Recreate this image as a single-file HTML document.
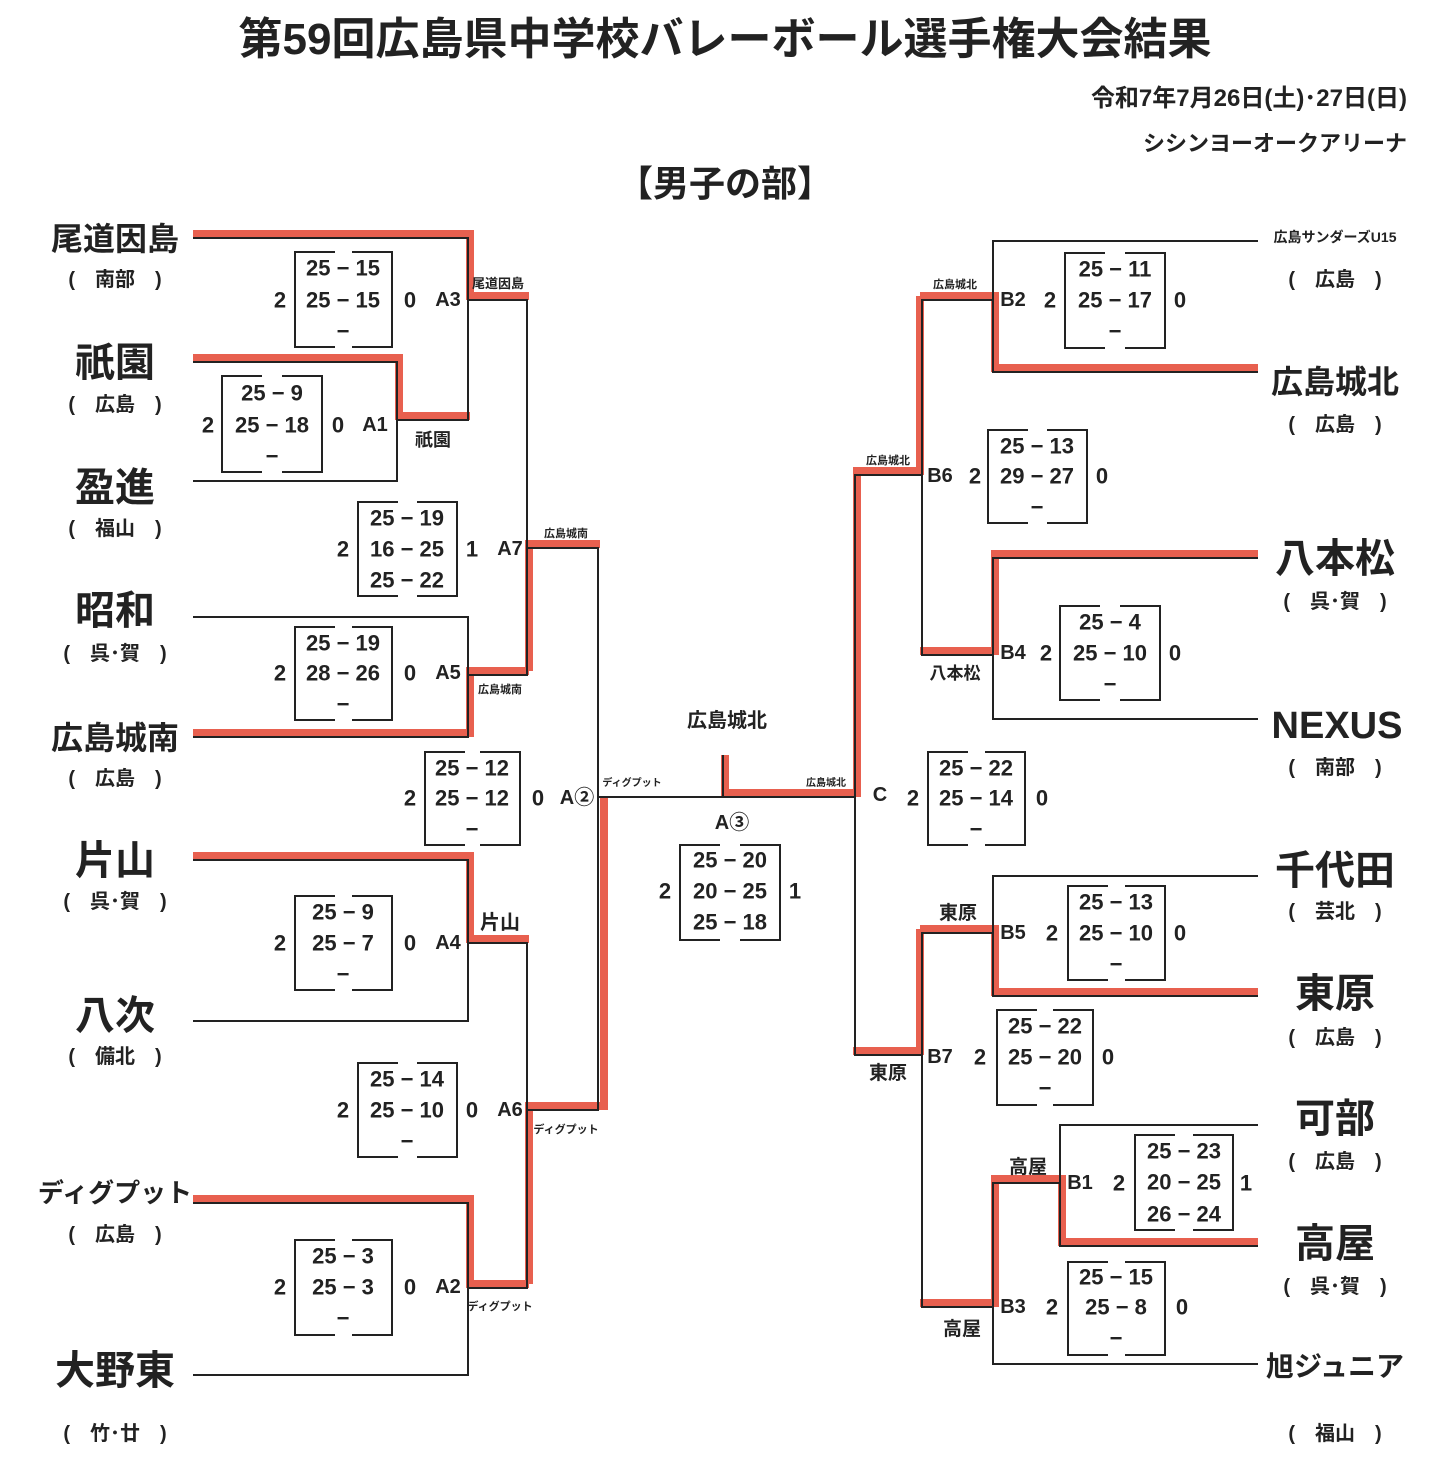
<!DOCTYPE html>
<html><head><meta charset="utf-8"><style>
body{margin:0;background:#fff}
svg{display:block}
text{font-family:"Liberation Sans","Noto Sans CJK JP",sans-serif;fill:#222}
.b{font-weight:bold}
.s{font-size:22px}
.t{font-size:13px;font-weight:bold}
</style></head><body>
<svg width="1452" height="1465" viewBox="0 0 1452 1465" xmlns="http://www.w3.org/2000/svg">
<text x="725" y="54" font-size="44" class="b" text-anchor="middle">第59回広島県中学校バレーボール選手権大会結果</text>
<text x="1407" y="106" font-size="24" text-anchor="end" class="b">令和7年7月26日(土)･27日(日)</text>
<text x="1407" y="151" font-size="22" text-anchor="end" class="b">シシンヨーオークアリーナ</text>
<text x="725" y="196" font-size="36" text-anchor="middle" class="b">【男子の部】</text>

<g stroke="#e8604f" stroke-width="8" fill="none">
<path d="M193 234H470V296H529"/>
<path d="M193 358H399V416H470"/>
<path d="M193 733H470V671H529"/>
<path d="M529 671V544H600"/>
<path d="M193 856H470V939H529"/>
<path d="M193 1199H470V1284H529"/>
<path d="M529 1284V1106H600"/>
<path d="M604 797V1110"/>
<path d="M725 755V793H857"/>
<path d="M1258 368H995V296H920"/>
<path d="M920 296V471H853"/>
<path d="M857 471V797"/>
<path d="M1258 554H995V651H920"/>
<path d="M1258 992H995V929H920"/>
<path d="M920 929V1051H853"/>
<path d="M1258 1242H1062V1179H991"/>
<path d="M995 1179V1303H920"/>
</g>

<g stroke="#222" stroke-width="2" fill="none">
<path d="M193 238H468V420H397M193 362H397V481H193M468 300H527V675H468M193 617H468V737H193M527 548H598V1110H527M193 860H468V1021H193M468 943H527V1288H468M193 1203H468V1375H193M598 797H855M723 755V797"/>
<path d="M1258 241H993V372H1258M993 300H922V655H993M1258 558H993V719H1258M922 475H855V1055H922M1258 876H993V996H1258M993 933H922V1307H993M1258 1125H1060V1246H1258M1060 1183H993V1364H1258"/>
</g>

<g class="b" text-anchor="middle">
<text x="115" y="250" font-size="32">尾道因島</text><text x="115" y="286" font-size="20">(　南部　)</text>
<text x="115" y="376" font-size="40">祇園</text><text x="115" y="411" font-size="20">(　広島　)</text>
<text x="115" y="501" font-size="40">盈進</text><text x="115" y="535" font-size="20">(　福山　)</text>
<text x="115" y="624" font-size="40">昭和</text><text x="115" y="660" font-size="20">(　呉･賀　)</text>
<text x="115" y="749" font-size="32">広島城南</text><text x="115" y="785" font-size="20">(　広島　)</text>
<text x="115" y="874" font-size="40">片山</text><text x="115" y="908" font-size="20">(　呉･賀　)</text>
<text x="115" y="1029" font-size="40">八次</text><text x="115" y="1063" font-size="20">(　備北　)</text>
<text x="115" y="1202" font-size="26">ディグプット</text><text x="115" y="1241" font-size="20">(　広島　)</text>
<text x="115" y="1384" font-size="40">大野東</text><text x="115" y="1440" font-size="20">(　竹･廿　)</text>

<text x="1335" y="242" font-size="14">広島サンダーズU15</text><text x="1335" y="286" font-size="20">(　広島　)</text>
<text x="1335" y="393" font-size="32">広島城北</text><text x="1335" y="431" font-size="20">(　広島　)</text>
<text x="1335" y="572" font-size="40">八本松</text><text x="1335" y="608" font-size="20">(　呉･賀　)</text>
<text x="1337" y="738" font-size="38">NEXUS</text><text x="1335" y="774" font-size="20">(　南部　)</text>
<text x="1335" y="884" font-size="40">千代田</text><text x="1335" y="918" font-size="20">(　芸北　)</text>
<text x="1335" y="1007" font-size="40">東原</text><text x="1335" y="1044" font-size="20">(　広島　)</text>
<text x="1335" y="1132" font-size="40">可部</text><text x="1335" y="1168" font-size="20">(　広島　)</text>
<text x="1335" y="1257" font-size="40">高屋</text><text x="1335" y="1293" font-size="20">(　呉･賀　)</text>
<text x="1335" y="1376" font-size="28">旭ジュニア</text><text x="1335" y="1440" font-size="20">(　福山　)</text>

<text x="498" y="288" class="t" font-size="10">尾道因島</text>
<text x="433" y="446" font-size="18">祇園</text>
<text x="566" y="537" font-size="11">広島城南</text>
<text x="500" y="693" font-size="11">広島城南</text>
<text x="500" y="929" font-size="20">片山</text>
<text x="566" y="1133" font-size="11">ディグプット</text>
<text x="500" y="1310" font-size="11">ディグプット</text>
<text x="632" y="786" font-size="10">ディグプット</text>
<text x="727" y="727" font-size="20">広島城北</text>
<text x="826" y="786" font-size="10">広島城北</text>
<text x="955" y="288" font-size="11">広島城北</text>
<text x="888" y="464" font-size="11">広島城北</text>
<text x="955" y="679" font-size="17">八本松</text>
<text x="958" y="919" font-size="19">東原</text>
<text x="888" y="1079" font-size="19">東原</text>
<text x="1028" y="1173" font-size="19">高屋</text>
<text x="962" y="1335" font-size="19">高屋</text>
</g>

<g fill="none" stroke="#222" stroke-width="2">
<path d="M335 252H295V347H335M352 252H392V347H352"/>
<path d="M262 376H222V472H262M282 376H322V472H282"/>
<path d="M398 502H358V596H398M417 502H457V596H417"/>
<path d="M335 627H295V720H335M352 627H392V720H352"/>
<path d="M465 752H425V845H465M480 752H520V845H480"/>
<path d="M335 896H295V990H335M352 896H392V990H352"/>
<path d="M398 1063H358V1157H398M417 1063H457V1157H417"/>
<path d="M335 1240H295V1335H335M352 1240H392V1335H352"/>
<path d="M720 845H680V940H720M740 845H780V940H740"/>
<path d="M1105 253H1065V348H1105M1125 253H1165V348H1125"/>
<path d="M1028 430H988V523H1028M1047 430H1087V523H1047"/>
<path d="M1100 606H1060V700H1100M1120 606H1160V700H1120"/>
<path d="M968 752H928V845H968M985 752H1025V845H985"/>
<path d="M1108 886H1068V980H1108M1125 886H1165V980H1125"/>
<path d="M1037 1010H997V1105H1037M1053 1010H1093V1105H1053"/>
<path d="M1175 1135H1135V1230H1175M1193 1135H1233V1230H1193"/>
<path d="M1108 1262H1068V1355H1108M1125 1262H1165V1355H1125"/>
</g>

<g class="s b" text-anchor="middle" dominant-baseline="central">
<!-- A3 -->
<text x="343" y="268">25 − 15</text><text x="343" y="300">25 − 15</text><text x="343" y="331">−</text>
<text x="280" y="300">2</text><text x="410" y="300">0</text><text x="448" y="300" font-size="20">A3</text>
<!-- A1 -->
<text x="272" y="393">25 − 9</text><text x="272" y="425">25 − 18</text><text x="272" y="456">−</text>
<text x="208" y="425">2</text><text x="338" y="425">0</text><text x="375" y="425" font-size="20">A1</text>
<!-- A7 -->
<text x="407" y="518">25 − 19</text><text x="407" y="549">16 − 25</text><text x="407" y="580">25 − 22</text>
<text x="343" y="549">2</text><text x="472" y="549">1</text><text x="510" y="549" font-size="20">A7</text>
<!-- A5 -->
<text x="343" y="643">25 − 19</text><text x="343" y="673">28 − 26</text><text x="343" y="704">−</text>
<text x="280" y="673">2</text><text x="410" y="673">0</text><text x="448" y="673" font-size="20">A5</text>
<!-- A2 circle -->
<text x="472" y="768">25 − 12</text><text x="472" y="798">25 − 12</text><text x="472" y="829">−</text>
<text x="410" y="798">2</text><text x="538" y="798">0</text><text x="577" y="798" font-size="20">A②</text>
<!-- A4 -->
<text x="343" y="912">25 − 9</text><text x="343" y="943">25 − 7</text><text x="343" y="974">−</text>
<text x="280" y="943">2</text><text x="410" y="943">0</text><text x="448" y="943" font-size="20">A4</text>
<!-- A6 -->
<text x="407" y="1079">25 − 14</text><text x="407" y="1110">25 − 10</text><text x="407" y="1141">−</text>
<text x="343" y="1110">2</text><text x="472" y="1110">0</text><text x="510" y="1110" font-size="20">A6</text>
<!-- A2 -->
<text x="343" y="1256">25 − 3</text><text x="343" y="1287">25 − 3</text><text x="343" y="1318">−</text>
<text x="280" y="1287">2</text><text x="410" y="1287">0</text><text x="448" y="1287" font-size="20">A2</text>
<!-- A3 circle -->
<text x="732" y="823" font-size="20">A③</text>
<text x="730" y="860">25 − 20</text><text x="730" y="891">20 − 25</text><text x="730" y="922">25 − 18</text>
<text x="665" y="891">2</text><text x="795" y="891">1</text>
<!-- B2 -->
<text x="1115" y="269">25 − 11</text><text x="1115" y="300">25 − 17</text><text x="1115" y="331">−</text>
<text x="1013" y="300" font-size="20">B2</text><text x="1050" y="300">2</text><text x="1180" y="300">0</text>
<!-- B6 -->
<text x="1037" y="446">25 − 13</text><text x="1037" y="476">29 − 27</text><text x="1037" y="507">−</text>
<text x="940" y="476" font-size="20">B6</text><text x="975" y="476">2</text><text x="1102" y="476">0</text>
<!-- B4 -->
<text x="1110" y="622">25 − 4</text><text x="1110" y="653">25 − 10</text><text x="1110" y="684">−</text>
<text x="1013" y="653" font-size="20">B4</text><text x="1046" y="653">2</text><text x="1175" y="653">0</text>
<!-- C -->
<text x="976" y="768">25 − 22</text><text x="976" y="798">25 − 14</text><text x="976" y="829">−</text>
<text x="880" y="795" font-size="20">C</text><text x="913" y="798">2</text><text x="1042" y="798">0</text>
<!-- B5 -->
<text x="1116" y="902">25 − 13</text><text x="1116" y="933">25 − 10</text><text x="1116" y="964">−</text>
<text x="1013" y="933" font-size="20">B5</text><text x="1052" y="933">2</text><text x="1180" y="933">0</text>
<!-- B7 -->
<text x="1045" y="1026">25 − 22</text><text x="1045" y="1057">25 − 20</text><text x="1045" y="1088">−</text>
<text x="940" y="1057" font-size="20">B7</text><text x="980" y="1057">2</text><text x="1108" y="1057">0</text>
<!-- B1 -->
<text x="1184" y="1151">25 − 23</text><text x="1184" y="1182">20 − 25</text><text x="1184" y="1214">26 − 24</text>
<text x="1080" y="1183" font-size="20">B1</text><text x="1119" y="1183">2</text><text x="1246" y="1183">1</text>
<!-- B3 -->
<text x="1116" y="1277">25 − 15</text><text x="1116" y="1307">25 − 8</text><text x="1116" y="1338">−</text>
<text x="1013" y="1307" font-size="20">B3</text><text x="1052" y="1307">2</text><text x="1182" y="1307">0</text>
</g>
</svg>
</body></html>
